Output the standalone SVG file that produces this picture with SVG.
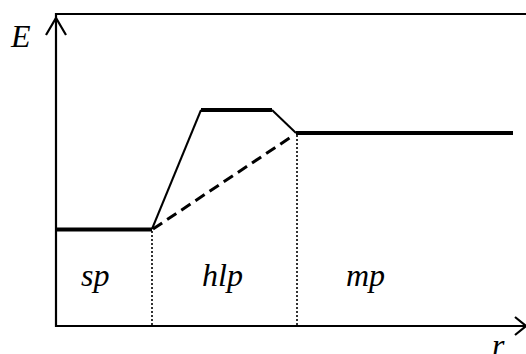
<svg xmlns="http://www.w3.org/2000/svg" width="526" height="354" viewBox="0 0 526 354">
  <style>
    .axis { stroke: #000; stroke-width: 2.2; fill: none; }
    .level { stroke: #000; stroke-width: 4; fill: none; }
    .slope { stroke: #000; stroke-width: 2; fill: none; }
    .dash { stroke: #000; stroke-width: 3; fill: none; stroke-dasharray: 11 6; }
    .dot { stroke: #000; stroke-width: 1.6; fill: none; stroke-dasharray: 2 2; }
    .lbl { font-family: "Liberation Serif", "Times New Roman", serif; font-style: italic; font-size: 32px; fill: #000; }
  </style>
  <rect width="526" height="354" fill="#fff"/>

  <g id="axes">
    <!-- frame top and vertical axis -->
    <polyline class="axis" points="526,14 56,14 56,326 526,326"/>
    <!-- arrowheads -->
    <polyline class="axis" points="46,35 56,18 66,35"/>
    <polyline class="axis" points="515,317 526,326 515,335"/>
    <text class="lbl" x="11" y="47">E</text>
    <text class="lbl" x="492" y="356">r</text>
  </g>

  <g id="connectors">
    <line class="dot" x1="152" y1="231" x2="152" y2="326"/>
    <line class="dot" x1="297" y1="135" x2="297" y2="326"/>
    <line class="dash" x1="153" y1="229" x2="294" y2="135"/>
    <line class="slope" x1="152" y1="229" x2="201" y2="110"/>
    <line class="slope" x1="272" y1="110" x2="296" y2="133"/>
  </g>

  <g id="sp">
    <line class="level" x1="56" y1="229.5" x2="152" y2="229.5"/>
    <text class="lbl" x="81" y="286">sp</text>
  </g>
  <g id="hlp">
    <line class="level" x1="201" y1="110" x2="272" y2="110"/>
    <text class="lbl" x="202" y="286">hlp</text>
  </g>
  <g id="mp">
    <line class="level" x1="296" y1="133" x2="513" y2="133"/>
    <text class="lbl" x="346" y="286">mp</text>
  </g>
</svg>
